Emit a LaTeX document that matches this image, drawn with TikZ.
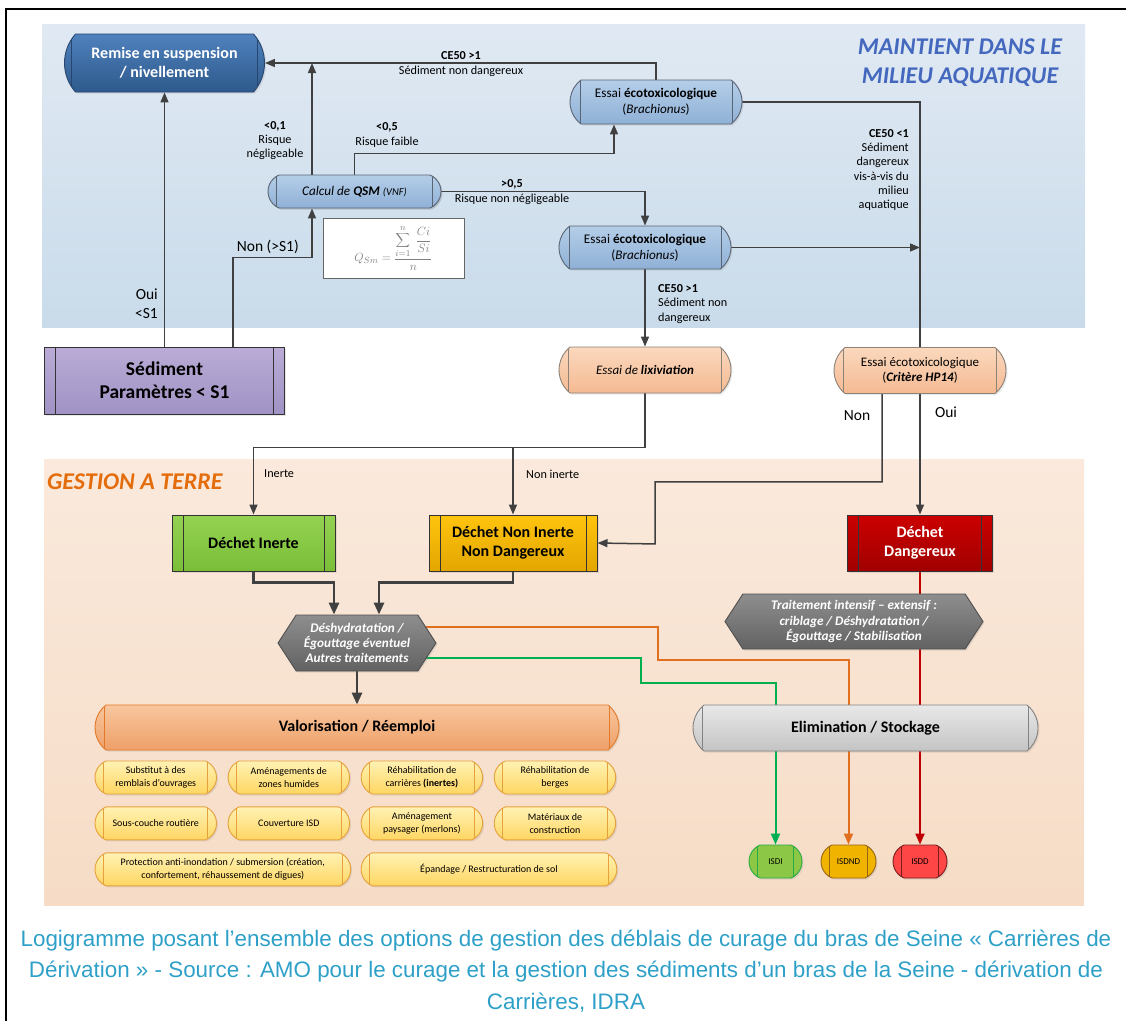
\documentclass[tikz,border=0pt]{standalone}
\usepackage{fontspec}
\setmainfont{Carlito}
\newfontfamily\captionfont{Liberation Sans}
\usetikzlibrary{
  arrows.meta,
  backgrounds,
  positioning,
  shadows,
  shapes.misc,
  shapes.symbols,
}
\definecolor{bluezoneT}{RGB}{224,233,243}
\definecolor{bluezoneB}{RGB}{201,219,234}
\definecolor{landzoneT}{RGB}{250,233,220}
\definecolor{landzoneB}{RGB}{246,220,198}
\definecolor{remiseT}{RGB}{79,129,189}
\definecolor{remiseB}{RGB}{46,90,140}
\definecolor{remiseE}{RGB}{40,70,110}
\definecolor{essaiT}{RGB}{180,206,232}
\definecolor{essaiB}{RGB}{143,176,214}
\definecolor{essaiE}{RGB}{90,100,115}
\definecolor{sedT}{RGB}{186,172,214}
\definecolor{sedB}{RGB}{160,146,196}
\definecolor{peachT}{RGB}{251,216,190}
\definecolor{peachB}{RGB}{244,186,146}
\definecolor{peachE}{RGB}{140,130,120}
\definecolor{inerteT}{RGB}{148,210,82}
\definecolor{inerteB}{RGB}{122,190,56}
\definecolor{nonInT}{RGB}{255,196,14}
\definecolor{nonInB}{RGB}{226,166,0}
\definecolor{dangT}{RGB}{204,0,0}
\definecolor{dangB}{RGB}{160,0,0}
\definecolor{hexT}{RGB}{142,142,142}
\definecolor{hexB}{RGB}{98,98,98}
\definecolor{hexE}{RGB}{80,80,80}
\definecolor{valoT}{RGB}{248,198,158}
\definecolor{valoB}{RGB}{238,160,104}
\definecolor{valoE}{RGB}{226,120,40}
\definecolor{reuseT}{RGB}{255,242,180}
\definecolor{reuseB}{RGB}{255,214,98}
\definecolor{reuseE}{RGB}{230,160,60}
\definecolor{elimT}{RGB}{232,232,232}
\definecolor{elimB}{RGB}{196,196,196}
\definecolor{elimE}{RGB}{130,130,130}
\definecolor{isdiF}{RGB}{140,200,70}
\definecolor{isdiE}{RGB}{40,170,70}
\definecolor{isdndF}{RGB}{240,180,0}
\definecolor{isdndE}{RGB}{150,100,20}
\definecolor{isddF}{RGB}{255,70,70}
\definecolor{isddE}{RGB}{120,30,30}
\definecolor{linkgray}{RGB}{64,64,64}
\definecolor{linkorange}{RGB}{224,112,32}
\definecolor{linkgreen}{RGB}{0,176,80}
\definecolor{linkred}{RGB}{192,0,0}
\definecolor{titleblue}{RGB}{68,104,190}
\definecolor{titleorange}{RGB}{228,108,10}
\definecolor{captionblue}{RGB}{46,160,200}
\tikzset{
  link/.style={-{Triangle[length=10pt,width=8pt]}, line width=1.5pt, linkgray},
  plain link/.style={line width=1.5pt, linkgray},
  thick link/.style={-{Triangle[length=12pt,width=10pt]}, line width=2.8pt, linkgray},
  green link/.style={-{Triangle[length=11pt,width=9pt]}, line width=2pt, linkgreen},
  orange link/.style={-{Triangle[length=11pt,width=9pt]}, line width=2pt, linkorange},
  red link/.style={-{Triangle[length=11pt,width=9pt]}, line width=2pt, linkred},
  soft shadow/.style={drop shadow={shadow xshift=1.5pt, shadow yshift=-1.5pt, opacity=0.18}},
  pipe/.style n args={2}{rounded rectangle, rounded rectangle arc length=#1,
    draw=#2, line width=0.9pt, align=center, inner sep=1pt, soft shadow,
    path picture={\draw[#2, line width=0.9pt]
      ([xshift=11pt]path picture bounding box.south west) -- ([xshift=11pt]path picture bounding box.north west)
      ([xshift=-11pt]path picture bounding box.south east) -- ([xshift=-11pt]path picture bounding box.north east);}},
  procbox/.style={rectangle, draw=#1, line width=1pt, align=center, inner sep=1pt, soft shadow,
    path picture={\draw[#1, line width=1pt]
      ([xshift=11pt]path picture bounding box.south west) -- ([xshift=11pt]path picture bounding box.north west)
      ([xshift=-11pt]path picture bounding box.south east) -- ([xshift=-11pt]path picture bounding box.north east);}},
  essai/.style={pipe={106}{essaiE}, top color=essaiT, bottom color=essaiB, font=\fontsize{13.2}{16}\selectfont},
  peach/.style={pipe={102}{peachE}, top color=peachT, bottom color=peachB, minimum width=174pt, minimum height=46pt, font=\fontsize{13}{15}\selectfont},
  dechet/.style={procbox=black!80, minimum height=56pt, font=\bfseries\fontsize{16}{19}\selectfont},
  hexbox/.style={signal, signal to=west and east, signal pointer angle=114, draw=hexE, line width=0.9pt,
    top color=hexT, bottom color=hexB, text=white, align=center, inner sep=1pt, soft shadow,
    font=\bfseries\itshape\fontsize{13.2}{15.3}\selectfont},
  reuse/.style={pipe={135}{reuseE}, top color=reuseT, bottom color=reuseB, minimum width=123.5pt,
    minimum height=33pt, font=\fontsize{10}{12.5}\selectfont},
  isd/.style={pipe={135}{#1E}, fill=#1F, minimum height=33pt, font=\fontsize{9}{10}\selectfont},
  lbl/.style={inner sep=0pt, align=center, font=\fontsize{12.2}{14.2}\selectfont},
  biglbl/.style={inner sep=0pt, align=center, font=\fontsize{15.5}{19}\selectfont},
}

\begin{document}
\begin{tikzpicture}[x=1pt, y=-1pt, node distance=12pt and 10.67pt]
  \useasboundingbox (0,0) rectangle (1126,1021);
  \begin{scope}[on background layer]
    \shade[top color=bluezoneT, bottom color=bluezoneB] (42,24) rectangle (1085,327);
    \shade[top color=landzoneT, bottom color=landzoneB] (44,459) rectangle (1084,905);
  \end{scope}
  \draw[line width=2pt] (6,1021) -- (6,9) -- (1126,9);

  % milieu aquatique
  \node[pipe={83}{remiseE}, top color=remiseT, bottom color=remiseB, minimum width=202pt, minimum height=58pt,
    text=white, font=\bfseries\fontsize{16}{19}\selectfont] (remise) at (164.5,63) {Remise en suspension\\/ nivellement};
  \node[essai, minimum width=174pt, minimum height=44pt] (essai1) at (656,102) {Essai \textbf{écotoxicologique}\\(\textit{Brachionus})};
  \node[essai, pipe={135}{essaiE}, minimum width=175pt, minimum height=33pt] (qsm) at (354.5,191.5)
    {\textit{Calcul de \textbf{QSM} {\fontsize{10.5}{12}\selectfont(VNF)}}};
  \node[essai, minimum width=174pt, minimum height=43pt] (essai2) at (645,247.5) {Essai \textbf{écotoxicologique}\\(\textit{Brachionus})};
  \node[draw=gray!80!black, fill=white, line width=0.8pt, minimum width=141pt, minimum height=60pt, inner sep=0pt,
    text=gray] (formula) at (393.5,248)
    {\fontsize{13}{15}\selectfont$\displaystyle Q_{Sm}=\frac{\displaystyle\sum_{i=1}^{n}\;\frac{Ci}{Si}}{n}$};
  \node[procbox=black!80, top color=sedT, bottom color=sedB, minimum width=240pt, minimum height=67pt,
    font=\bfseries\fontsize{19.5}{23}\selectfont] (sediment) at (164.5,380.5) {Sédiment\\Paramètres < S1};
  \node[peach] (lixiv) at (645,370) {\textit{Essai de \textbf{lixiviation}}};
  \node[peach] (hp14) at (920,370.5) {Essai écotoxicologique\\(\textbf{\textit{Critère HP14}})};

  % gestion a terre
  \node[dechet, top color=inerteT, bottom color=inerteB, minimum width=163pt] (inerte) at (253.5,543) {Déchet Inerte};
  \node[dechet, top color=nonInT, bottom color=nonInB, minimum width=168pt] (noninerte) at (513,543) {Déchet Non Inerte\\Non Dangereux};
  \node[dechet, top color=dangT, bottom color=dangB, minimum width=145pt, text=white] (dangereux) at (920,543) {Déchet\\Dangereux};
  \node[hexbox, minimum width=158pt, minimum height=56pt] (deshyd) at (357,643) {Déshydratation /\\Égouttage éventuel\\Autres traitements};
  \node[hexbox, minimum width=258pt, minimum height=55pt] (traitement) at (854,621.5)
    {Traitement intensif – extensif :\\criblage / Déshydratation /\\Égouttage / Stabilisation};
  \node[pipe={104}{valoE}, top color=valoT, bottom color=valoB, minimum width=526pt, minimum height=45pt,
    font=\bfseries\fontsize{16}{18}\selectfont] (valo) at (357,727.5) {Valorisation / Réemploi};
  \node[pipe={102}{elimE}, top color=elimT, bottom color=elimB, minimum width=347pt, minimum height=46pt,
    font=\bfseries\fontsize{16}{18}\selectfont] (elim) at (865.5,728) {Elimination / Stockage};

  \node[reuse] (r1) at (155.75,777.5) {Substitut à des\\remblais d’ouvrages};
  \node[reuse, right=of r1] (r2) {Aménagements de\\zones humides};
  \node[reuse, right=of r2] (r3) {Réhabilitation de\\carrières \textbf{(inertes)}};
  \node[reuse, right=of r3] (r4) {Réhabilitation de\\berges};
  \node[reuse, below=of r1] (r5) {Sous-couche routière};
  \node[reuse, below=of r2] (r6) {Couverture ISD};
  \node[reuse, below=of r3] (r7) {Aménagement\\paysager (merlons)};
  \node[reuse, below=of r4] (r8) {Matériaux de\\construction};
  \node[reuse, minimum width=257.67pt, below=of r5.south west, anchor=north west] (r9)
    {Protection anti-inondation / submersion (création,\\confortement, réhaussement de digues)};
  \node[reuse, minimum width=257.67pt, below=of r7.south west, anchor=north west] (r10) {Épandage / Restructuration de sol};

  \node[isd=isdi, minimum width=55pt] (isdi) at (775.5,861.5) {ISDI};
  \node[isd=isdnd, minimum width=57pt] (isdnd) at (848.5,861.5) {ISDND};
  \node[isd=isdd, minimum width=56pt] (isdd) at (920,861.5) {ISDD};

  % connectors
  \begin{scope}[on background layer]
    \draw[link] (sediment.north) -- (remise.south);
    \draw[link] ([xshift=68.5pt]sediment.north) |- ([xshift=-42.5pt,yshift=-49pt]qsm.south) -- ([xshift=-42.5pt]qsm.south);
    \coordinate (negl) at ([xshift=-42.5pt]qsm.north);
    \draw[link] (negl) -- (negl |- remise.east);
    \draw[link] (essai1.north) |- (remise.east);
    \draw[link] (qsm.north) |- ([xshift=-42pt,yshift=-29pt]essai1.south) -- ([xshift=-42pt]essai1.south);
    \draw[link] (qsm.east) -| (essai2.north);
    \draw[plain link] (essai1.east) -| (hp14.north);
    \draw[link] (essai2.east) -- (essai2.east -| hp14.north);
    \draw[link] (essai2.south) -- (lixiv.north);
    \draw[link] (lixiv.south) |- ([yshift=67pt]inerte.north) -- (inerte.north);
    \draw[link] ([yshift=67pt]noninerte.north) -- (noninerte.north);
    \draw[link] ([xshift=-38pt]hp14.south) -- ++(0,88) -| ++(-227,62) -- (noninerte.east);
    \draw[link] (hp14.south) -- (dangereux.north);
    \draw[thick link] (inerte.south) |- ([xshift=-23pt,yshift=32pt]deshyd.north) -- ([xshift=-23pt]deshyd.north);
    \draw[thick link] (noninerte.south) |- ([xshift=22pt,yshift=32pt]deshyd.north) -- ([xshift=22pt]deshyd.north);
    \draw[thick link] (deshyd.south) -- (valo.north);
    \draw[green link] ([yshift=-15pt]deshyd.center) -| ++(284,25) -| (isdi.north);
    \draw[orange link] ([yshift=16pt]deshyd.center) -| ++(301,33) -| (isdnd.north);
    \draw[red link] (dangereux.south) -- (isdd.north);
  \end{scope}

  % labels
  \node[lbl] (lab-ce1) at (461,56) {\textbf{CE50 >1}};
  \node[lbl] (lab-snd) at (461,71.5) {Sédiment non dangereux};
  \node[lbl] (lab-r01) at (275,140.5) {\textbf{<0,1}\\Risque\\négligeable};
  \node[lbl] (lab-r05) at (387,135) {\textbf{<0,5}\\Risque faible};
  \node[lbl] (lab-g05) at (512,184) {\textbf{>0,5}};
  \node[lbl] (lab-rnn) at (512,199.5) {Risque non négligeable};
  \node[lbl, anchor=east, align=right] (lab-ce2) at (909,170) {\textbf{CE50 <1}\\Sédiment\\dangereux\\vis-à-vis du\\milieu\\aquatique};
  \node[lbl, anchor=west, align=left] (lab-ce3) at (658,304) {\textbf{CE50 >1}\\Sédiment non\\dangereux};
  \node[biglbl, anchor=east, align=right] (lab-oui1) at (158,304) {Oui\\<S1};
  \node[biglbl, anchor=east] (lab-non1) at (299,247) {Non (>S1)};
  \node[lbl, anchor=west] (lab-in) at (264,474) {Inerte};
  \node[lbl, anchor=west] (lab-nin) at (526,474) {Non inerte};
  \node[biglbl] (lab-non2) at (857,416) {Non};
  \node[biglbl] (lab-oui2) at (946,412) {Oui};

  \node[font=\bfseries\itshape\fontsize{24}{29}\selectfont, text=titleblue, align=center] (title-aqua) at (960,62.5)
    {MAINTIENT DANS LE\\MILIEU AQUATIQUE};
  \node[font=\bfseries\itshape\fontsize{24}{29}\selectfont, text=titleorange, anchor=west, inner sep=0pt] (title-land) at (47,482)
    {GESTION A TERRE};
  \node[font=\captionfont\fontsize{22.4}{31.5}\selectfont, text=captionblue, align=center] (caption) at (566,971)
    {Logigramme posant l’ensemble des options de gestion des déblais de curage du bras de Seine « Carrières de\\
     Dérivation » - Source : AMO pour le curage et la gestion des sédiments d’un bras de la Seine - dérivation de\\
     Carrières, IDRA};
\end{tikzpicture}
\end{document}
